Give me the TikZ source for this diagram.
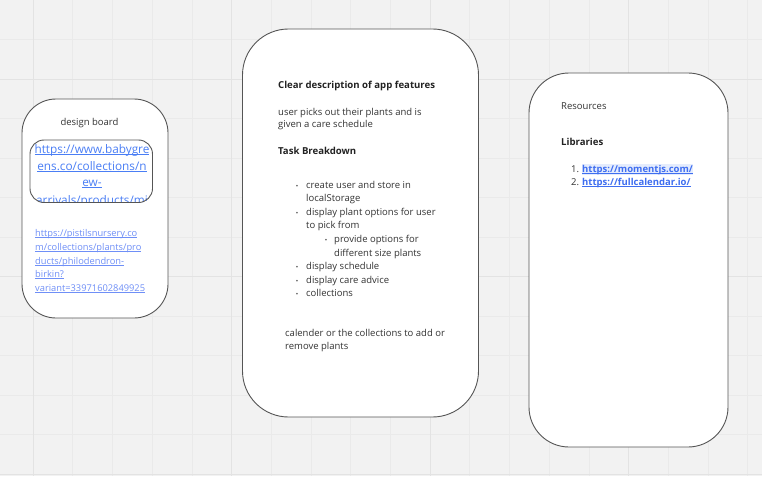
\documentclass[tikz,border=0pt]{standalone}
\usepackage{fontspec}
\setmainfont{Open Sans}
\definecolor{canvas}{HTML}{F2F2F2}
\definecolor{gridminor}{HTML}{EAEAEA}
\definecolor{gridmajor}{HTML}{E3E3E3}
\definecolor{cardline}{HTML}{555555}
\definecolor{ink}{HTML}{333333}
\definecolor{inkbold}{HTML}{222222}
\definecolor{linkbig}{HTML}{4A7EF5}
\definecolor{linksmall}{HTML}{6F8FF7}
\definecolor{linkres}{HTML}{3F6EF0}
\definecolor{linkhl}{HTML}{E4ECFD}
% link text with an underline set just below the baseline
\newcommand\linktext[1]{\setbox0\hbox{#1}\rlap{\vrule height -1.1pt depth 1.9pt width \wd0}\box0}
\tikzset{
  card/.style={draw=cardline, fill=white, line width=0.9pt},
  txt/.style={anchor=base west, inner sep=0pt, text=ink, font=\fontsize{9.5}{13.5}\selectfont},
  hdr/.style={txt, text=inkbold, font=\fontsize{9.6}{13.5}\selectfont\bfseries},
  dot/.style={anchor=base, inner sep=0pt, text=ink, font=\fontsize{6.5}{8}\selectfont},
  biglink/.style={anchor=base, inner sep=0pt, text=linkbig, font=\fontsize{11.8}{16}\selectfont},
  smalllink/.style={txt, text=linksmall, font=\fontsize{9.3}{13.5}\selectfont},
  reslink/.style={txt, text=linkres, font=\fontsize{9.5}{13.5}\selectfont\bfseries},
}
\begin{document}
\begin{tikzpicture}[x=1pt, y=-1pt]
  % canvas and grid
  \fill[canvas] (0,0) rectangle (762,476);
  \useasboundingbox (0,0) rectangle (762,476);
  \foreach \i in {0,...,18} {
    \draw[gridminor, line width=0.6pt] ({33+39.7*\i},0) -- ({33+39.7*\i},476);
  }
  \foreach \j in {-1,...,10} {
    \draw[gridminor, line width=0.6pt] (0,{79+39.5*\j}) -- (762,{79+39.5*\j});
  }
  \foreach \i in {0,...,3} {
    \draw[gridmajor, line width=0.8pt] ({33+198.5*\i},0) -- ({33+198.5*\i},476);
  }
  \foreach \j in {0,1,2} {
    \draw[gridmajor, line width=0.8pt] (0,{79+197.5*\j}) -- (762,{79+197.5*\j});
  }

  % ---------- design board ----------
  \draw[card, rounded corners=34pt] (22,99) rectangle (168,318);
  \node[txt, anchor=base] (dbtitle) at (89.5,125) {design board};
  \begin{scope}
    \clip[rounded corners=14pt] (30,140) rectangle (152.5,202.5);
    \fill[white] (30,140) rectangle (152.5,202.5);
    \node[biglink] (bg1) at (92,153) {\linktext{https://www.babygre}};
    \node[biglink] (bg2) at (92,170) {\linktext{ens.co/collections/n}};
    \node[biglink] (bg3) at (92,186) {\linktext{ew-}};
    \node[biglink] (bg4) at (92,204) {\linktext{arrivals/products/mi}};
  \end{scope}
  \draw[cardline, line width=0.9pt, rounded corners=14pt] (30,140) rectangle (152.5,202.5);
  \node[smalllink] (ps1) at (35,236) {\linktext{https://pistilsnursery.co}};
  \node[smalllink] (ps2) at (35,250) {\linktext{m/collections/plants/pro}};
  \node[smalllink] (ps3) at (35,264) {\linktext{ducts/philodendron-}};
  \node[smalllink] (ps4) at (35,277) {\linktext{birkin?}};
  \node[smalllink] (ps5) at (35,291) {\linktext{variant=33971602849925}};

  % ---------- app features ----------
  \draw[card, rounded corners=46pt] (242.5,29) rectangle (478.5,417);
  \node[hdr] (feat) at (278,89) {Clear description of app features};
  \node[txt] (d1) at (278,115) {user picks out their plants and is};
  \node[txt] (d2) at (278,128) {given a care schedule};
  \node[hdr] (task) at (278,154) {Task Breakdown};
  \foreach \y/\n in {188/b1, 215/b2, 269/b3, 283/b4, 296/b5} {
    \node[dot] (\n) at (297,\y) {•};
  }
  \node[dot] (s1) at (326,242) {•};
  \node[txt] (l1) at (306,188) {create user and store in};
  \node[txt] (l1b) at (306,201) {localStorage};
  \node[txt] (l2) at (306,215) {display plant options for user};
  \node[txt] (l2b) at (306,228) {to pick from};
  \node[txt] (l3) at (334,242) {provide options for};
  \node[txt] (l3b) at (334,256) {different size plants};
  \node[txt] (l4) at (306,269) {display schedule};
  \node[txt] (l5) at (306,283) {display care advice};
  \node[txt] (l6) at (306,296) {collections};
  \node[txt] (n1) at (285,336) {calender or the collections to add or};
  \node[txt] (n2) at (285,349) {remove plants};

  % ---------- resources ----------
  \draw[card, rounded corners=40pt] (529,73) rectangle (728,447);
  \node[txt] (res) at (561,110) {Resources};
  \node[hdr] (lib) at (561,145) {Libraries};
  \node[txt] (k1) at (571,172) {1.};
  \node[txt] (k2) at (571,185) {2.};
  \node[reslink, fill=linkhl, inner ysep=1pt] (r1) at (582,172) {\linktext{https://momentjs.com/}};
  \node[reslink] (r2) at (582,185) {\linktext{https://fullcalendar.io/}};
\end{tikzpicture}
\end{document}
